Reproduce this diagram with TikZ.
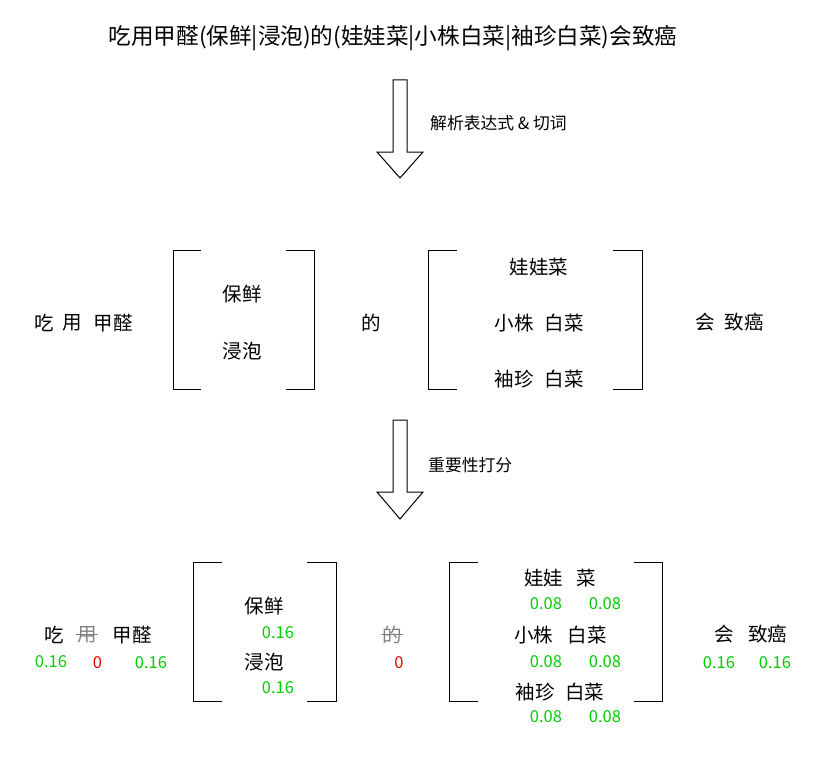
\documentclass[tikz,border=0pt]{standalone}
\usepackage{fontspec}
\setmainfont{Noto Sans CJK SC}
\usetikzlibrary{calc}
\definecolor{numgreen}{RGB}{0,204,0}
\definecolor{numred}{RGB}{225,0,0}
\definecolor{delgray}{RGB}{128,128,128}
\begin{document}
\begin{tikzpicture}[x=1pt,y=-1pt,
  word/.style={inner sep=0pt,font=\fontsize{19.5}{22}\selectfont},
  title/.style={inner sep=0pt,font=\fontsize{22.6}{26}\selectfont},
  lbl/.style={inner sep=0pt,anchor=west,font=\fontsize{16.8}{19}\selectfont},
  num/.style={inner sep=0pt,text=numgreen,font=\fontsize{16.5}{19}\selectfont},
  zero/.style={inner sep=0pt,text=numred,font=\fontsize{16.5}{19}\selectfont},
  deleted/.style={word,text=delgray},
  strike/.style={draw=delgray,line width=0.9pt},
  bracketline/.style={draw=black,line width=1pt},
  bigarrow/.style={draw=black,line width=1pt,fill=white}]
\useasboundingbox (0,0) rectangle (828,760);
\fill[white] (0,0) rectangle (828,760);

% title
\node[title] (t) at (393,38) {吃用甲醛(保鲜|浸泡)的(娃娃菜|小株白菜|袖珍白菜)会致癌};

% arrow 1
\coordinate (a1s) at (400,80);
\coordinate (a1e) at (400,178);
\draw[bigarrow] ($(a1s)+(-7,0)$) -- ($(a1s)+(-7,72)$) -- ($(a1s)+(-23,72)$) -- (a1e)
  -- ($(a1s)+(23,72)$) -- ($(a1s)+(7,72)$) -- ($(a1s)+(7,0)$) -- cycle;
\node[lbl] (l1) at (430,123) {解析表达式 \& 切词};

% middle row
\node[word] (m1) at (44,323) {吃};
\node[word] (m2) at (72,323) {用};
\node[word] (m3) at (113,323) {甲醛};
\draw[bracketline] (201,250) -- (173,250) -- (173,389) -- (201,389);
\draw[bracketline] (286,250) -- (314,250) -- (314,389) -- (286,389);
\node[word] (m4) at (242,294) {保鲜};
\node[word] (m5) at (242,351) {浸泡};
\node[word] (m6) at (371,323) {的};
\draw[bracketline] (457,250) -- (428,250) -- (428,389) -- (457,389);
\draw[bracketline] (613,250) -- (642,250) -- (642,389) -- (613,389);
\node[word] (m7) at (539,267) {娃娃菜};
\node[word] (m8) at (514,323) {小株};
\node[word] (m9) at (564,323) {白菜};
\node[word] (m10) at (514,379) {袖珍};
\node[word] (m11) at (564,379) {白菜};
\node[word] (m12) at (705,322) {会};
\node[word] (m13) at (744,322) {致癌};

% arrow 2
\coordinate (a2s) at (400,420);
\coordinate (a2e) at (400,519);
\draw[bigarrow] ($(a2s)+(-7,0)$) -- ($(a2s)+(-7,72)$) -- ($(a2s)+(-23,72)$) -- (a2e)
  -- ($(a2s)+(23,72)$) -- ($(a2s)+(7,72)$) -- ($(a2s)+(7,0)$) -- cycle;
\node[lbl] (l2) at (428,465) {重要性打分};

% bottom row
\node[word] (b1) at (54,635) {吃};
\node[deleted] (b2) at (87,635) {用};
\draw[strike] ($(b2.west)+(-1,-1)$) -- ($(b2.east)+(1,-1)$);
\node[word] (b3) at (132,635) {甲醛};
\node[num] (s1) at (51,662) {0.16};
\node[zero] (s2) at (97.5,663) {0};
\node[num] (s3) at (151,663) {0.16};

\draw[bracketline] (222,562) -- (193,562) -- (193,701) -- (222,701);
\draw[bracketline] (307,562) -- (336,562) -- (336,701) -- (307,701);
\node[word] (b4) at (264,606) {保鲜};
\node[num] (s4) at (278,633) {0.16};
\node[word] (b5) at (264,662) {浸泡};
\node[num] (s5) at (278,688) {0.16};

\node[deleted] (b6) at (392,635) {的};
\draw[strike] ($(b6.west)+(-1,-1)$) -- ($(b6.east)+(1,-1)$);
\node[zero] (s6) at (399,663) {0};

\draw[bracketline] (478,562) -- (449,562) -- (449,701) -- (478,701);
\draw[bracketline] (634,562) -- (662,562) -- (662,701) -- (634,701);
\node[word] (b7) at (543.5,578) {娃娃};
\node[word] (b8) at (586.5,578) {菜};
\node[num] (s7) at (546,604) {0.08};
\node[num] (s8) at (605,604) {0.08};
\node[word] (b9) at (533.5,635) {小株};
\node[word] (b10) at (587,635) {白菜};
\node[num] (s9) at (546,662) {0.08};
\node[num] (s10) at (605,662) {0.08};
\node[word] (b11) at (535,692) {袖珍};
\node[word] (b12) at (584.5,692) {白菜};
\node[num] (s11) at (546,717) {0.08};
\node[num] (s12) at (605,717) {0.08};

\node[word] (b13) at (724.5,634) {会};
\node[word] (b14) at (767.5,634) {致癌};
\node[num] (s13) at (719,663) {0.16};
\node[num] (s14) at (775,663) {0.16};
\end{tikzpicture}
\end{document}
